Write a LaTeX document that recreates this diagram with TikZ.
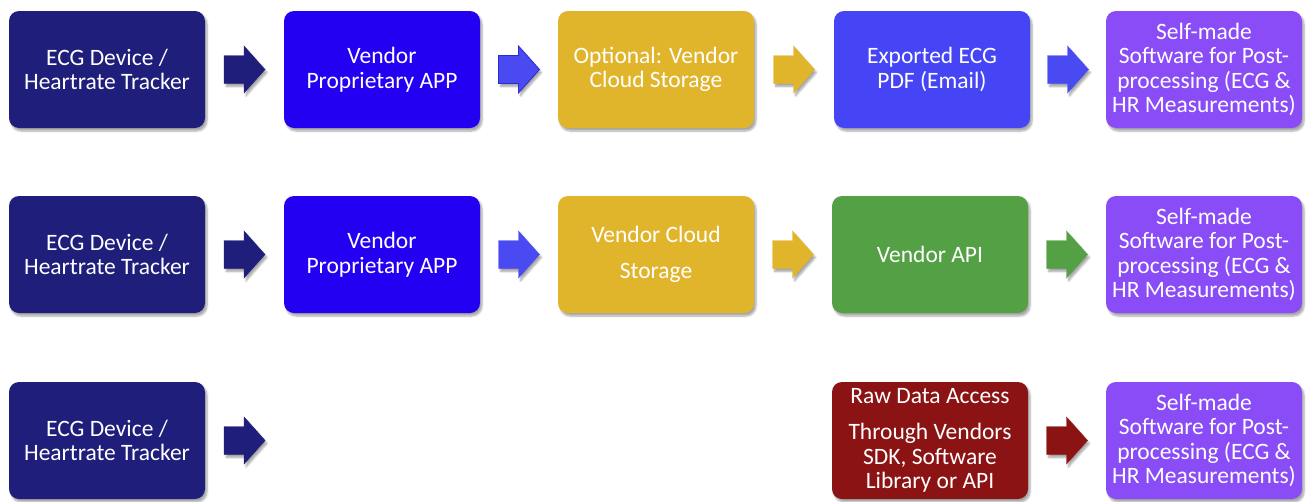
\documentclass[tikz,border=0pt]{standalone}
\usepackage{fontspec}
\setmainfont{Carlito}
\usetikzlibrary{calc,shadows.blur}
\definecolor{cnavy}{HTML}{1F1E7A}
\definecolor{capp}{HTML}{2400F2}
\definecolor{cyel}{HTML}{E1B52B}
\definecolor{cexp}{HTML}{4545F6}
\definecolor{cpur}{HTML}{8A4CF6}
\definecolor{cgrn}{HTML}{53A045}
\definecolor{cred}{HTML}{8C1313}
\definecolor{carr}{HTML}{4A4AF2}
\definecolor{carrline}{HTML}{2B2BCF}
\tikzset{
  box/.style={rectangle, rounded corners=10pt, minimum width=196pt, minimum height=117pt,
    inner sep=2pt, align=center, text=white, font=\fontsize{23.5}{24.5}\selectfont,
    blur shadow={shadow xshift=2pt, shadow yshift=-3pt, shadow blur steps=6, shadow opacity=35}},
  arrowshape/.style={blur shadow={shadow xshift=2pt, shadow yshift=-3pt, shadow blur steps=5, shadow opacity=35}}
}
\newcommand\blockarrow[4]{%
  \coordinate (#4) at ($(#1.east)!0.5!(#2.west)$);
  \filldraw[#3, arrowshape] ($(#4)+(-20.5,-14)$) -- ($(#4)+(-0.5,-14)$) -- ($(#4)+(-0.5,-23.5)$)
    -- ($(#4)+(20.5,0)$) -- ($(#4)+(-0.5,23.5)$) -- ($(#4)+(-0.5,14)$) -- ($(#4)+(-20.5,14)$) -- cycle;
}
\begin{document}
\begin{tikzpicture}[x=1pt,y=-1pt]
\useasboundingbox (0,0) rectangle (1309,501);
% row 1
\node[box, fill=cnavy] (a1) at (107,69.5) {ECG Device /\\Heartrate Tracker};
\node[box, fill=capp] (a2) at (382,69.5) {Vendor\\Proprietary APP};
\node[box, fill=cyel] (a3) at (656,69.5) {Optional: Vendor\\Cloud Storage};
\node[box, fill=cexp] (a4) at (932,69.5) {Exported ECG\\PDF (Email)};
\node[box, fill=cpur] (a5) at (1204,69.5) {Self-made\\Software for Post-\\processing (ECG \&\\HR Measurements)};
% row 2
\node[box, fill=cnavy] (b1) at (107,254.5) {ECG Device /\\Heartrate Tracker};
\node[box, fill=capp] (b2) at (382,254.5) {Vendor\\Proprietary APP};
\node[box, fill=cyel] (b3) at (656,254.5) {Vendor Cloud\\[12pt]Storage};
\node[box, fill=cgrn] (b4) at (930,254.5) {Vendor API};
\node[box, fill=cpur] (b5) at (1204,254.5) {Self-made\\Software for Post-\\processing (ECG \&\\HR Measurements)};
% row 3
\node[box, fill=cnavy] (c1) at (107,440.5) {ECG Device /\\Heartrate Tracker};
\node[box, fill=cred] (c4) at (930,440.5) {Raw Data Access\\[12pt]Through Vendors\\SDK, Software\\Library or API};
\node[box, fill=cpur] (c5) at (1204,440.5) {Self-made\\Software for Post-\\processing (ECG \&\\HR Measurements)};
\coordinate (c2) at (284,440.5);
% arrows
\blockarrow{a1}{a2}{fill=cnavy, draw=cnavy}{ma1}
\blockarrow{a2}{a3}{fill=carr, draw=carrline, line width=0.8pt}{ma2}
\blockarrow{a3}{a4}{fill=cyel, draw=cyel}{ma3}
\blockarrow{a4}{a5}{fill=carr, draw=carr}{ma4}
\blockarrow{b1}{b2}{fill=cnavy, draw=cnavy}{mb1}
\blockarrow{b2}{b3}{fill=carr, draw=carr}{mb2}
\blockarrow{b3}{b4}{fill=cyel, draw=cyel}{mb3}
\blockarrow{b4}{b5}{fill=cgrn, draw=cgrn}{mb4}
\blockarrow{c1}{c2}{fill=cnavy, draw=cnavy}{mc1}
\blockarrow{c4}{c5}{fill=cred, draw=cred}{mc4}
\end{tikzpicture}
\end{document}
